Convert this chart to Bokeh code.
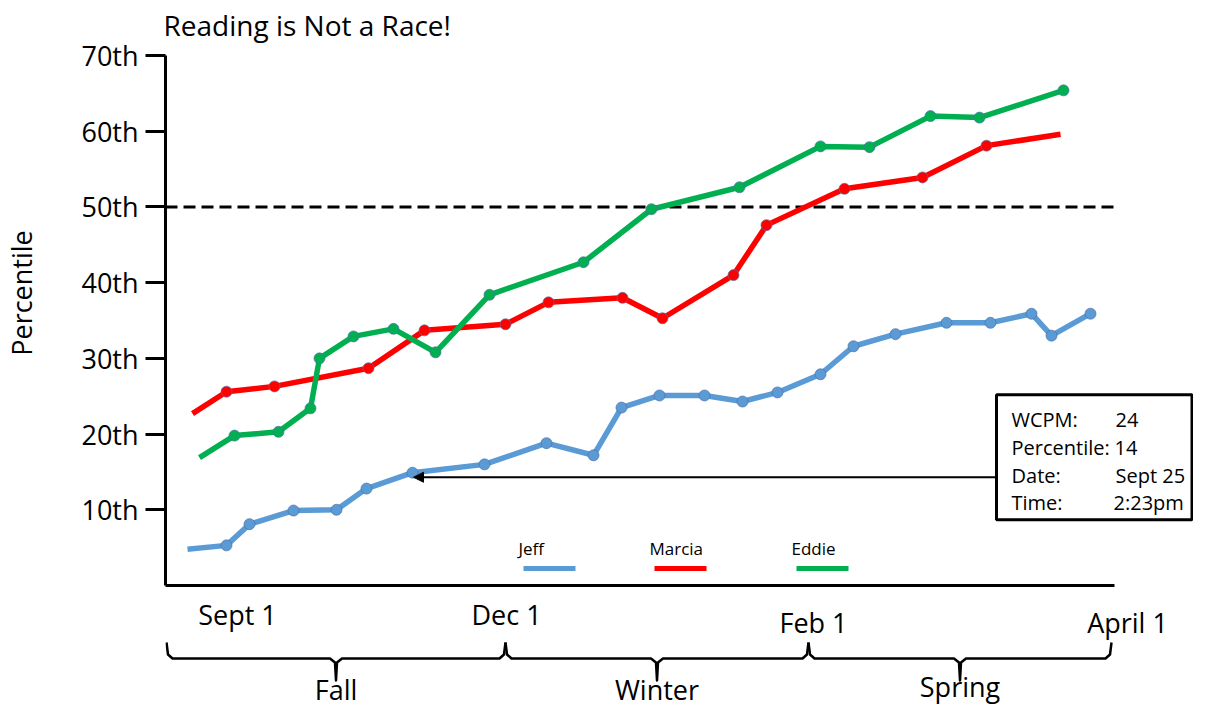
from bokeh.plotting import figure
from bokeh.layouts import column
from bokeh.models import Range1d, FixedTicker, Arrow, NormalHead
from bokeh.core.properties import value
from bokeh.embed import file_html
from bokeh.resources import INLINE

FONT = "Open Sans"

# ---------------- data ----------------
title_text = "Reading is Not a Race!"
y_label = "Percentile"
tick_values = [10, 20, 30, 40, 50, 60, 70]
tick_labels = ["10th", "20th", "30th", "40th", "50th", "60th", "70th"]
benchmark = 50

# x = position along the school year (arbitrary units, Sept 1 ~ 7, April 1 ~ 96)
jeff_x = [2.2, 6.1, 8.4, 12.8, 17.1, 20.1, 24.7, 31.9, 38.1, 42.8, 45.6, 49.4,
          53.9, 57.7, 61.2, 65.5, 68.8, 73.0, 78.1, 82.5, 86.6, 88.6, 92.5]
jeff_y = [4.8, 5.3, 8.1, 9.9, 10.0, 12.8, 14.9, 16.0, 18.8, 17.2, 23.5, 25.1,
          25.1, 24.3, 25.5, 27.9, 31.6, 33.2, 34.7, 34.7, 35.9, 33.0, 35.9]

marcia_x = [2.7, 6.1, 10.9, 20.3, 25.9, 34.0, 38.3, 45.7, 49.7, 56.8, 60.1,
            67.9, 75.7, 82.1, 89.5]
marcia_y = [22.7, 25.6, 26.3, 28.7, 33.7, 34.5, 37.4, 38.0, 35.3, 41.0, 47.6,
            52.4, 53.9, 58.1, 59.6]

eddie_x = [3.4, 6.9, 11.3, 14.5, 15.4, 18.8, 22.8, 27.0, 32.4, 41.8, 48.6,
           57.4, 65.5, 70.4, 76.5, 81.4, 89.8]
eddie_y = [16.9, 19.8, 20.3, 23.4, 30.0, 32.9, 33.9, 30.8, 38.4, 42.7, 49.7,
           52.6, 58.0, 57.9, 62.0, 61.8, 65.4]

series_names = ["Jeff", "Marcia", "Eddie"]
series_colors = ["#5B9BD5", "#FF0000", "#00B050"]

date_labels = ["Sept 1", "Dec 1", "Feb 1", "April 1"]
date_x = [7.2, 34.1, 64.8, 96.2]

season_names = ["Fall", "Winter", "Spring"]
season_bounds = [0.1, 34.0, 64.3, 94.6]

info_keys = ["WCPM:", "Percentile:", "Date:", "Time:"]
info_vals = ["24", "14", "Sept 25", "2:23pm"]

# ---------------- layout constants ----------------
FRAME_W = 1028
X_END = 102.8
AXIS_END = 94.9
Y_TOP = 77.27

p = figure(frame_width=FRAME_W, frame_height=585,
           x_range=Range1d(0, X_END), y_range=Range1d(0, Y_TOP),
           output_backend="svg", toolbar_location=None,
           min_border_left=163, min_border_right=0,
           min_border_top=0, min_border_bottom=5)
p.outline_line_color = None
p.xgrid.visible = False
p.ygrid.visible = False
p.background_fill_color = "white"
p.border_fill_color = "white"

# y axis
ya = p.yaxis[0]
ya.ticker = FixedTicker(ticks=tick_values)
ya.major_label_overrides = {v: l for v, l in zip(tick_values, tick_labels)}
ya.bounds = (0, tick_values[-1])
ya.axis_line_width = 3
ya.axis_line_color = "black"
ya.major_tick_line_width = 3
ya.major_tick_line_color = "black"
ya.major_tick_out = 20
ya.major_tick_in = 0
ya.minor_tick_line_color = None
ya.major_label_standoff = 7
ya.major_label_text_font = FONT
ya.major_label_text_font_size = "27px"
ya.major_label_text_color = "black"
ya.axis_label = y_label
ya.axis_label_text_font = FONT
ya.axis_label_text_font_size = "27px"
ya.axis_label_text_font_style = "normal"
ya.axis_label_text_color = "black"
ya.axis_label_standoff = 38

# x axis (baseline only)
xa = p.xaxis[0]
xa.ticker = FixedTicker(ticks=[])
xa.bounds = (0, AXIS_END)
xa.axis_line_width = 3
xa.axis_line_color = "black"
xa.major_tick_out = 0
xa.major_tick_in = 0
xa.minor_tick_line_color = None
xa.major_label_text_font_size = "0px"

# title
p.text(x=[-0.2], y=[74.0], text=[title_text], text_font=value(FONT),
       text_font_size="28px", text_baseline="middle", text_align="left",
       text_color="black")

# benchmark line
p.segment(x0=[0], y0=[benchmark], x1=[AXIS_END], y1=[benchmark],
          line_color="black", line_width=3, line_dash="12 6")

# series
for xs, ys, col, first, last in [
        (jeff_x, jeff_y, series_colors[0], 1, None),
        (marcia_x, marcia_y, series_colors[1], 1, -1),
        (eddie_x, eddie_y, series_colors[2], 1, None)]:
    p.line(xs, ys, line_color=col, line_width=5.5, line_join="round")
    p.scatter(xs[first:last], ys[first:last], size=11, fill_color=col,
              line_color="#4f6fa8", line_width=1, line_alpha=0.7)

# legend (label above swatch)
leg_x = [35.8, 48.9, 63.1]
leg_len = 5.2
p.segment(x0=leg_x, y0=[2.25] * 3, x1=[v + leg_len for v in leg_x], y1=[2.25] * 3,
          line_color=series_colors, line_width=5)
p.text(x=[v - 0.5 for v in leg_x], y=[4.9] * 3, text=series_names,
       text_font=value(FONT), text_font_size="17px", text_baseline="middle",
       text_align="left", text_color="black")

# info box + arrow
p.add_layout(Arrow(end=NormalHead(size=10, fill_color="black", line_color="black"),
                   x_start=83.1, y_start=14.3, x_end=24.8, y_end=14.3,
                   line_color="black", line_width=2))
p.quad(left=[83.1], right=[X_END - 0.15], bottom=[8.7], top=[25.2],
       fill_color="white", line_color="black", line_width=3)
row_y = [21.9, 18.2, 14.5, 10.9]
p.text(x=[84.6] * 4, y=row_y, text=info_keys, text_font=value(FONT),
       text_font_size="20px", text_baseline="middle", text_align="left",
       text_color="black")
p.text(x=[95.0, 94.9, 95.0, 94.8], y=row_y, text=info_vals, text_font=value(FONT),
       text_font_size="20px", text_baseline="middle", text_align="left",
       text_color="black")

# ---------------- lower strip: dates, braces, seasons ----------------
# y in this strip = -(pixel row from the top of the picture)
p2 = figure(frame_width=FRAME_W, frame_height=118,
            x_range=p.x_range, y_range=Range1d(-708, -590),
            output_backend="svg", toolbar_location=None,
            x_axis_location=None, y_axis_location=None,
            min_border_left=163, min_border_right=0,
            min_border_top=0, min_border_bottom=0)
p2.outline_line_color = None
p2.xgrid.visible = False
p2.ygrid.visible = False

p2.text(x=date_x, y=[-614, -614, -622, -622], text=date_labels,
        text_font=value(FONT), text_font_size="27px", text_baseline="middle",
        text_align="center", text_color="black")

brace_xs, brace_ys, centers = [], [], []
for a, b in zip(season_bounds[:-1], season_bounds[1:]):
    c = (a + b) / 2
    centers.append(c)
    brace_xs.append([a, a + 0.15, a + 0.6, c - 0.6, c - 0.1, c, c + 0.1, c + 0.6,
                     b - 0.6, b - 0.15, b])
    brace_ys.append([-642, -654, -658, -658, -662, -680, -662, -658, -658, -654, -642])
p2.multi_line(brace_xs, brace_ys, line_color="black", line_width=2.5,
              line_join="round")

p2.text(x=centers, y=[-689, -689, -686], text=season_names,
        text_font=value(FONT), text_font_size="27px", text_baseline="middle",
        text_align="center", text_color="black")

layout = column(p, p2)
open("out.html", "w").write(file_html(layout, INLINE))
